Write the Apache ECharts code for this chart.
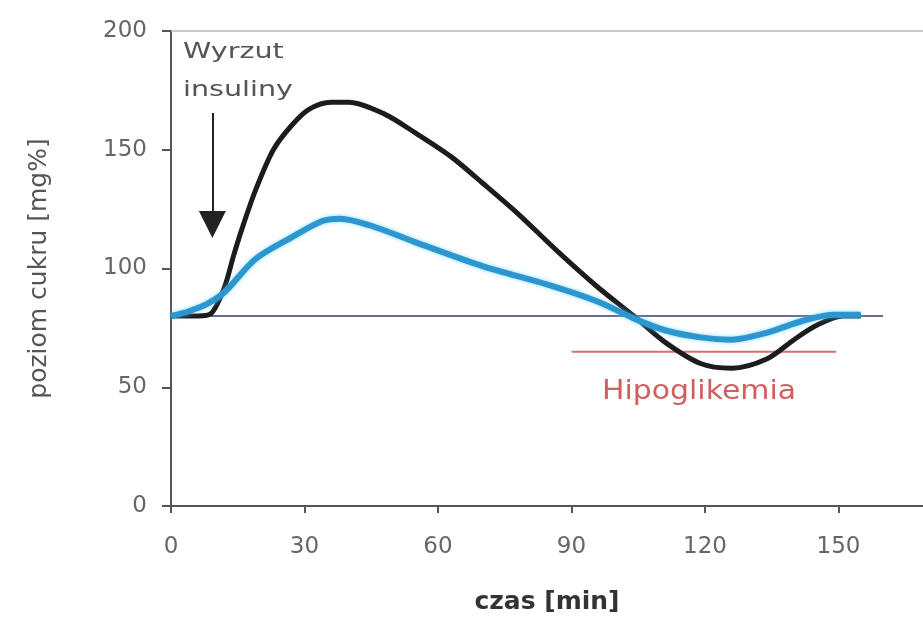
<!DOCTYPE html>
<html><head><meta charset="utf-8">
<script src="https://cdn.jsdelivr.net/npm/echarts@6/dist/echarts.min.js"></script>
<style>html,body{margin:0;padding:0;background:#fff}#c{width:923px;height:619px}</style>
</head><body><div id="c"></div>
<script>
// ---- data ----
const xTicks = [0, 30, 60, 90, 120, 150];
const yTicks = [0, 50, 100, 150, 200];

const fastTime    = [0, 6, 9, 12, 14, 16, 19, 23, 27, 31, 36, 40, 48, 55, 63, 70, 78, 87, 96, 104, 111, 119, 126, 134, 140, 145, 151, 155];
const fastGlucose = [80, 80, 81, 92, 105, 117, 133, 150, 160, 167, 170, 170, 165, 157, 147, 136, 123, 107, 92, 80, 69, 60, 58, 62, 70, 76, 80, 80];

const slowTime    = [0, 4, 8, 12, 19, 27, 34, 38, 45, 55, 70, 85, 96, 104, 111, 119, 126, 134, 142, 149, 155];
const slowGlucose = [80, 82, 85, 90, 104, 113, 120, 121, 118, 111, 101, 93, 86, 79, 74, 71, 70, 73, 78, 80.5, 80.5];

const normalTime = [0, 160];
const normalGlucose = [80, 80];

const hypoTime = [90, 149.5];
const hypoGlucose = [65, 65];

const arrowTime = [9.3, 9.3];
const arrowGlucose = [165.5, 118.5];

// ---- chart ----
const pairs = (xs, ys) => xs.map((x, i) => [x, ys[i]]);
const chart = echarts.init(document.getElementById('c'));
const tickFont = { fontFamily: 'DejaVu Sans', fontSize: 23, color: '#666' };

chart.setOption({
  animation: false,
  backgroundColor: '#fff',
  grid: { left: 171, right: 0, top: 31, bottom: 113, outerBoundsMode: 'none', containLabel: false },
  xAxis: [{
    type: 'value', min: 0, max: 169, interval: 30,
    name: 'czas [min]', nameLocation: 'middle', nameGap: 84,
    nameTextStyle: { fontFamily: 'DejaVu Sans', fontWeight: 'bold', fontSize: 25, color: '#333' },
    axisLine: { show: true, lineStyle: { color: '#555', width: 2 } },
    axisTick: { show: true, length: 7, customValues: xTicks, lineStyle: { color: '#555', width: 2 } },
    axisLabel: Object.assign({ margin: 30, customValues: xTicks, formatter: v => xTicks.includes(v) ? String(v) : '' }, tickFont),
    splitLine: { show: false }
  }, {
    type: 'value', min: 0, max: 169, position: 'top',
    axisLine: { show: true, lineStyle: { color: '#b8b8b8', width: 1.5 } },
    axisTick: { show: false }, axisLabel: { show: false }, splitLine: { show: false }
  }],
  yAxis: {
    type: 'value', min: 0, max: 200, interval: 50,
    name: 'poziom cukru [mg%]', nameLocation: 'middle', nameGap: 119, nameRotate: 90,
    nameTextStyle: { fontFamily: 'DejaVu Sans', fontSize: 25, color: '#555' },
    axisLine: { show: true, lineStyle: { color: '#555', width: 2 } },
    axisTick: { show: true, length: 9, lineStyle: { color: '#555', width: 2 } },
    axisLabel: Object.assign({ margin: 24, formatter: v => yTicks.includes(v) ? String(v) : '' }, tickFont),
    splitLine: { show: false }
  },
  graphic: [
    { type: 'text', x: 183, y: 41, scaleX: 1.3, z: 100,
      style: { text: 'Wyrzut', fontFamily: 'DejaVu Sans', fontSize: 22, fill: '#555', textAlign: 'left', textVerticalAlign: 'top' } },
    { type: 'text', x: 183, y: 79, scaleX: 1.3, z: 100,
      style: { text: 'insuliny', fontFamily: 'DejaVu Sans', fontSize: 22, fill: '#555', textAlign: 'left', textVerticalAlign: 'top' } },
    { type: 'text', x: 602, y: 379, scaleX: 1.15, z: 100,
      style: { text: 'Hipoglikemia', fontFamily: 'DejaVu Sans', fontSize: 26, fill: '#d06060', textAlign: 'left', textVerticalAlign: 'top' } }
  ],
  series: [
    { name: 'norma', type: 'line', data: pairs(normalTime, normalGlucose), symbol: 'none', silent: true, z: 1,
      lineStyle: { color: '#6a6a98', width: 2 } },
    { name: 'hipoglikemia', type: 'line', data: pairs(hypoTime, hypoGlucose), symbol: 'none', silent: true, z: 1,
      lineStyle: { color: '#d07070', width: 2 } },
    { name: 'szybki', type: 'line', data: pairs(fastTime, fastGlucose), symbol: 'none', smooth: 0.3, z: 2,
      lineStyle: { color: '#1c1c1c', width: 5 } },
    { name: 'wolny', type: 'line', data: pairs(slowTime, slowGlucose), symbol: 'none', smooth: 0.3, z: 3,
      lineStyle: { color: '#2e96cf', width: 6, shadowColor: 'rgba(90,210,255,0.7)', shadowBlur: 4 } },
    { name: 'strzalka', type: 'line', data: [], symbol: 'none', z: 4,
      markLine: {
        silent: true, symbol: ['none', 'triangle'], symbolSize: 27,
        label: { show: false },
        itemStyle: { color: '#111' },
        lineStyle: { color: '#222', width: 2, type: 'solid' },
        data: [[{ coord: [arrowTime[0], arrowGlucose[0]] }, { coord: [arrowTime[1], arrowGlucose[1]] }]]
      } }
  ]
});
</script>
</body></html>
